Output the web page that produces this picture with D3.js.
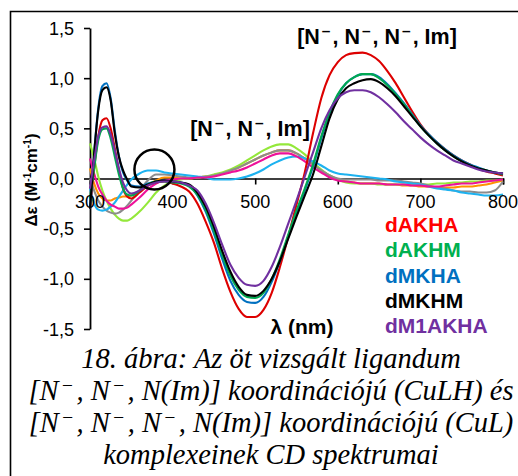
<!DOCTYPE html>
<html>
<head>
<meta charset="utf-8">
<script src="https://cdn.jsdelivr.net/npm/d3@7"></script>
<style>
  body { margin: 0; background: #fff; }
  svg { display: block; }
</style>
</head>
<body>
<div id="chart"></div>
<script>
// Wavelengths (nm)
const wl = [300, 305, 310, 315, 320, 325, 330, 335, 340, 345,
  350, 360, 370, 380, 390, 400, 410, 420, 430, 440,
  450, 460, 470, 480, 490, 500, 510, 520, 530, 540,
  550, 560, 570, 580, 590, 600, 610, 620, 630, 640,
  650, 660, 670, 680, 690, 700, 710, 720, 730, 740,
  750, 760, 770, 780, 790, 800];

// CuL spectra
const dAKHA = [-0.30, 0.10, 0.42, 0.58, 0.60, 0.50, 0.30, 0.08, -0.10, -0.18,
  -0.20, -0.14, -0.07, -0.04, -0.03, -0.05, -0.08, -0.13, -0.25, -0.43,
  -0.64, -0.90, -1.13, -1.30, -1.38, -1.38, -1.31, -1.14, -0.88, -0.58,
  -0.26, 0.06, 0.45, 0.80, 1.03, 1.16, 1.23, 1.25, 1.255, 1.23,
  1.17, 1.07, 0.95, 0.81, 0.67, 0.54, 0.44, 0.36, 0.29, 0.23,
  0.18, 0.14, 0.10, 0.07, 0.05, 0.03];
const dAKHM = [-0.20, 0.10, 0.38, 0.49, 0.50, 0.40, 0.22, 0.04, -0.10, -0.16,
  -0.17, -0.12, -0.06, -0.03, -0.03, -0.04, -0.05, -0.08, -0.16, -0.31,
  -0.52, -0.76, -0.97, -1.11, -1.18, -1.19, -1.14, -1.00, -0.80, -0.56,
  -0.32, -0.10, 0.14, 0.42, 0.66, 0.84, 0.95, 1.01, 1.04, 1.04,
  1.00, 0.93, 0.84, 0.74, 0.63, 0.52, 0.43, 0.35, 0.28, 0.22,
  0.17, 0.13, 0.10, 0.08, 0.06, 0.04];
const dMKHA = [-0.30, 0.25, 0.70, 0.92, 0.95, 0.80, 0.48, 0.22, 0.06, -0.02,
  -0.07, -0.08, -0.05, -0.03, -0.02, -0.03, -0.04, -0.07, -0.17, -0.33,
  -0.55, -0.80, -1.02, -1.16, -1.23, -1.24, -1.18, -1.03, -0.82, -0.58,
  -0.34, -0.12, 0.12, 0.40, 0.65, 0.83, 0.95, 1.01, 1.04, 1.04,
  1.01, 0.94, 0.85, 0.75, 0.64, 0.53, 0.44, 0.36, 0.29, 0.23,
  0.18, 0.14, 0.11, 0.08, 0.06, 0.05];
const dMKHM = [-0.30, 0.25, 0.68, 0.88, 0.91, 0.78, 0.45, 0.22, 0.08, -0.01,
  -0.08, -0.09, -0.06, -0.03, -0.02, -0.03, -0.04, -0.06, -0.14, -0.28,
  -0.48, -0.72, -0.93, -1.08, -1.16, -1.17, -1.12, -1.00, -0.82, -0.60,
  -0.38, -0.17, 0.04, 0.32, 0.60, 0.79, 0.90, 0.95, 0.98, 0.99,
  0.96, 0.90, 0.82, 0.72, 0.62, 0.52, 0.43, 0.35, 0.28, 0.22,
  0.17, 0.13, 0.10, 0.08, 0.06, 0.05];
const dM1AKHA = [-0.10, 0.18, 0.42, 0.51, 0.52, 0.44, 0.28, 0.10, -0.04, -0.12,
  -0.15, -0.12, -0.07, -0.04, -0.03, -0.03, -0.04, -0.07, -0.12, -0.25,
  -0.44, -0.66, -0.86, -0.99, -1.06, -1.07, -1.02, -0.88, -0.68, -0.45,
  -0.22, 0.02, 0.26, 0.50, 0.68, 0.80, 0.86, 0.88, 0.88, 0.86,
  0.81, 0.74, 0.66, 0.57, 0.49, 0.41, 0.34, 0.28, 0.23, 0.18,
  0.15, 0.12, 0.09, 0.07, 0.06, 0.05];

// CuLH spectra
const culhLime = [0.35, 0.20, 0.02, -0.12, -0.22, -0.30, -0.36, -0.40, -0.42, -0.42,
  -0.40, -0.33, -0.24, -0.14, -0.07, -0.03, -0.01, 0.00, 0.01, 0.02,
  0.04, 0.06, 0.09, 0.13, 0.18, 0.23, 0.28, 0.32, 0.34, 0.34,
  0.30, 0.24, 0.16, 0.09, 0.03, -0.01, -0.04, -0.05, -0.05, -0.05,
  -0.06, -0.06, -0.06, -0.06, -0.06, -0.06, -0.06, -0.05, -0.05, -0.04,
  -0.04, -0.03, -0.03, -0.02, -0.02, -0.01];
const culhOrange = [0.10, -0.05, -0.15, -0.20, -0.22, -0.22, -0.20, -0.19, -0.18, -0.18,
  -0.17, -0.13, -0.07, -0.02, 0.01, 0.01, 0.00, 0.00, 0.01, 0.02,
  0.03, 0.05, 0.08, 0.11, 0.15, 0.19, 0.23, 0.26, 0.28, 0.28,
  0.25, 0.20, 0.14, 0.08, 0.03, -0.01, -0.03, -0.04, -0.05, -0.05,
  -0.05, -0.06, -0.06, -0.07, -0.07, -0.08, -0.08, -0.09, -0.09, -0.09,
  -0.08, -0.08, -0.07, -0.06, -0.04, -0.02];
const culhGray = [0.00, -0.12, -0.22, -0.28, -0.32, -0.34, -0.35, -0.34, -0.31, -0.27,
  -0.22, -0.12, -0.02, 0.04, 0.04, 0.03, 0.02, 0.01, 0.01, 0.02,
  0.03, 0.05, 0.08, 0.11, 0.15, 0.19, 0.23, 0.26, 0.28, 0.28,
  0.25, 0.20, 0.14, 0.08, 0.03, 0.00, -0.01, -0.01, -0.01, -0.01,
  -0.02, -0.02, -0.02, -0.03, -0.04, -0.05, -0.07, -0.09, -0.10, -0.12,
  -0.13, -0.13, -0.14, -0.14, -0.12, -0.03];
const culhCyan = [-0.10, -0.25, -0.31, -0.32, -0.31, -0.28, -0.24, -0.18, -0.12, -0.06,
  -0.01, 0.05, 0.08, 0.08, 0.06, 0.05, 0.04, 0.03, 0.02, 0.01,
  -0.01, -0.01, -0.01, 0.00, 0.02, 0.05, 0.09, 0.14, 0.18, 0.21,
  0.22, 0.20, 0.17, 0.13, 0.08, 0.05, 0.04, 0.03, 0.02, 0.01,
  0.00, -0.01, -0.03, -0.04, -0.05, -0.06, -0.08, -0.10, -0.11, -0.12,
  -0.14, -0.15, -0.16, -0.17, -0.17, -0.16];
const culhMagenta = [0.20, 0.05, -0.08, -0.16, -0.22, -0.26, -0.28, -0.30, -0.30, -0.29,
  -0.26, -0.19, -0.11, -0.05, -0.02, -0.01, 0.00, 0.00, 0.01, 0.01,
  0.02, 0.04, 0.06, 0.08, 0.11, 0.15, 0.19, 0.23, 0.25, 0.25,
  0.22, 0.17, 0.11, 0.06, 0.01, -0.02, -0.03, -0.04, -0.05, -0.05,
  -0.05, -0.06, -0.06, -0.06, -0.07, -0.07, -0.08, -0.08, -0.07, -0.06,
  -0.05, -0.05, -0.04, -0.03, -0.02, -0.01];

const xTicks = [300, 400, 500, 600, 700, 800];
const yTicks = [-1.5, -1.0, -0.5, 0.0, 0.5, 1.0, 1.5];

const legendNames = ["dAKHA", "dAKHM", "dMKHA", "dMKHM", "dM1AKHA"];
const legendColors = ["#ff0000", "#00b050", "#0070c0", "#000000", "#7030a0"];

const captionLines = [
  [{ t: "18. ábra: Az öt vizsgált ligandum" }],
  [{ t: "[N" }, { t: "\u2013", sup: true }, { t: ", N" }, { t: "\u2013", sup: true }, { t: ", N(Im)] koordinációjú (CuLH) és" }],
  [{ t: "[N" }, { t: "\u2013", sup: true }, { t: ", N" }, { t: "\u2013", sup: true }, { t: ", N" }, { t: "\u2013", sup: true }, { t: ", N(Im)] koordinációjú (CuL)" }],
  [{ t: "komplexeinek CD spektrumai" }]
];

// Series in drawing order
const series = [
  { values: culhOrange, color: "#ff9000" },
  { values: culhLime, color: "#94e83a" },
  { values: culhGray, color: "#8c8c8c" },
  { values: culhCyan, color: "#1db2f0" },
  { values: culhMagenta, color: "#ee1199" },
  { values: dAKHA, color: "#dd0000" },
  { values: dMKHA, color: "#0070c0" },
  { values: dAKHM, color: "#00a850" },
  { values: dMKHM, color: "#000000" },
  { values: dM1AKHA, color: "#7030a0" }
];

const W = 518, H = 476;
const svg = d3.select("#chart").append("svg")
  .attr("width", W)
  .attr("height", H);

// Frame (left and top edges)
svg.append("path")
  .attr("d", `M10.5,${H} V11.5 H${W}`)
  .attr("fill", "none")
  .attr("stroke", "#000")
  .attr("stroke-width", 1.6);

const x = d3.scaleLinear().domain([300, 800]).range([90, 503]);
const y = d3.scaleLinear().domain([-1.5, 1.5]).range([329, 28]);

// rich text helper with superscripts: the shift back down goes on the next piece
function richText(sel, parts, size, supScale, gap) {
  const s = supScale || 0.62;
  const g = gap || 0;
  const rise = size * 0.38;
  let back = 0;
  parts.forEach(p => {
    if (p.sup) {
      sel.append("tspan").attr("dx", g / 2).attr("dy", -rise).attr("font-size", size * s).text(p.t);
      back = rise;
    } else {
      sel.append("tspan").attr("dx", back ? g / 2 : 0).attr("dy", back).text(p.t);
      back = 0;
    }
  });
}

// Axes
const xAxis = svg.append("g")
  .attr("transform", `translate(0,${y(0)})`)
  .call(d3.axisBottom(x).tickValues(xTicks).tickSize(6).tickFormat(""));
xAxis.select(".domain").attr("stroke", "#000").attr("stroke-width", 1.6);
xAxis.selectAll(".tick line").attr("stroke", "#000").attr("stroke-width", 1.6);

const yAxis = svg.append("g")
  .attr("transform", `translate(${x(300)},0)`)
  .call(d3.axisLeft(y).tickValues(yTicks).tickSize(6).tickSizeOuter(0).tickFormat(""));
yAxis.select(".domain").attr("stroke", "#000").attr("stroke-width", 1.8);
yAxis.selectAll(".tick line").attr("stroke", "#000").attr("stroke-width", 1.6);

// Curves
const line = d3.line()
  .x((d, i) => x(wl[i]))
  .y(d => y(d))
  .curve(d3.curveMonotoneX);

svg.append("g")
  .selectAll("path")
  .data(series)
  .enter()
  .append("path")
    .attr("d", d => line(d.values))
    .attr("fill", "none")
    .attr("stroke", d => d.color)
    .attr("stroke-width", 2.1)
    .attr("stroke-linejoin", "round");

// Tick labels
svg.append("g")
  .selectAll("text")
  .data(xTicks)
  .enter()
  .append("text")
    .attr("x", d => x(d))
    .attr("y", y(0) + 29)
    .attr("text-anchor", "middle")
    .attr("font-family", "Liberation Sans, Arial, sans-serif")
    .attr("font-size", 18)
    .text(d => d);

svg.append("g")
  .selectAll("text")
  .data(yTicks)
  .enter()
  .append("text")
    .attr("x", 74)
    .attr("y", d => y(d) + 6.5)
    .attr("text-anchor", "end")
    .attr("font-family", "Liberation Sans, Arial, sans-serif")
    .attr("font-size", 18)
    .text(d => d3.format(".1f")(d).replace(".", ",").replace("−", "-"));

// Circle marking the 380 nm region
svg.append("circle")
  .attr("cx", x(378))
  .attr("cy", y(0.09))
  .attr("r", 20)
  .attr("fill", "none")
  .attr("stroke", "#000")
  .attr("stroke-width", 2.5);

// Y axis title
const yTitle = svg.append("text")
  .attr("transform", `translate(37,180) rotate(-90)`)
  .attr("text-anchor", "middle")
  .attr("font-family", "Liberation Sans, Arial, sans-serif")
  .attr("font-weight", "bold")
  .attr("font-size", 17);
richText(yTitle, [{ t: "\u0394\u03b5 (M" }, { t: "-1", sup: true }, { t: "cm" }, { t: "-1", sup: true }, { t: ")" }], 17, 0.6);

// Species labels
const lab1 = svg.append("text")
  .attr("x", 377).attr("y", 44)
  .attr("text-anchor", "middle")
  .attr("font-family", "Liberation Sans, Arial, sans-serif")
  .attr("font-weight", "bold")
  .attr("font-size", 21.5);
richText(lab1, [{ t: "[N" }, { t: "\u2013", sup: true }, { t: ", N" }, { t: "\u2013", sup: true }, { t: ", N" }, { t: "\u2013", sup: true }, { t: ", Im]" }], 21.5, 0.72, 4);

const lab2 = svg.append("text")
  .attr("x", 250).attr("y", 136)
  .attr("text-anchor", "middle")
  .attr("font-family", "Liberation Sans, Arial, sans-serif")
  .attr("font-weight", "bold")
  .attr("font-size", 21.5);
richText(lab2, [{ t: "[N" }, { t: "\u2013", sup: true }, { t: ", N" }, { t: "\u2013", sup: true }, { t: ", Im]" }], 21.5, 0.72, 4);

// X axis title
svg.append("text")
  .attr("x", 302).attr("y", 334)
  .attr("text-anchor", "middle")
  .attr("font-family", "Liberation Sans, Arial, sans-serif")
  .attr("font-weight", "bold")
  .attr("font-size", 21)
  .text("\u03bb (nm)");

// Legend
svg.append("g")
  .selectAll("text")
  .data(legendNames)
  .enter()
  .append("text")
    .attr("x", 385)
    .attr("y", (d, i) => 232 + i * 25.3)
    .attr("font-family", "Liberation Sans, Arial, sans-serif")
    .attr("font-weight", "bold")
    .attr("font-size", 21)
    .attr("fill", (d, i) => legendColors[i])
    .text(d => d);

// Caption
captionLines.forEach((parts, i) => {
  const t = svg.append("text")
    .attr("x", 271)
    .attr("y", 368 + i * 32)
    .attr("text-anchor", "middle")
    .attr("font-family", "Liberation Serif, Times New Roman, serif")
    .attr("font-style", "italic")
    .attr("font-size", 28.5);
  richText(t, parts, 28.5, 0.62, 9);
});
</script>
</body>
</html>
